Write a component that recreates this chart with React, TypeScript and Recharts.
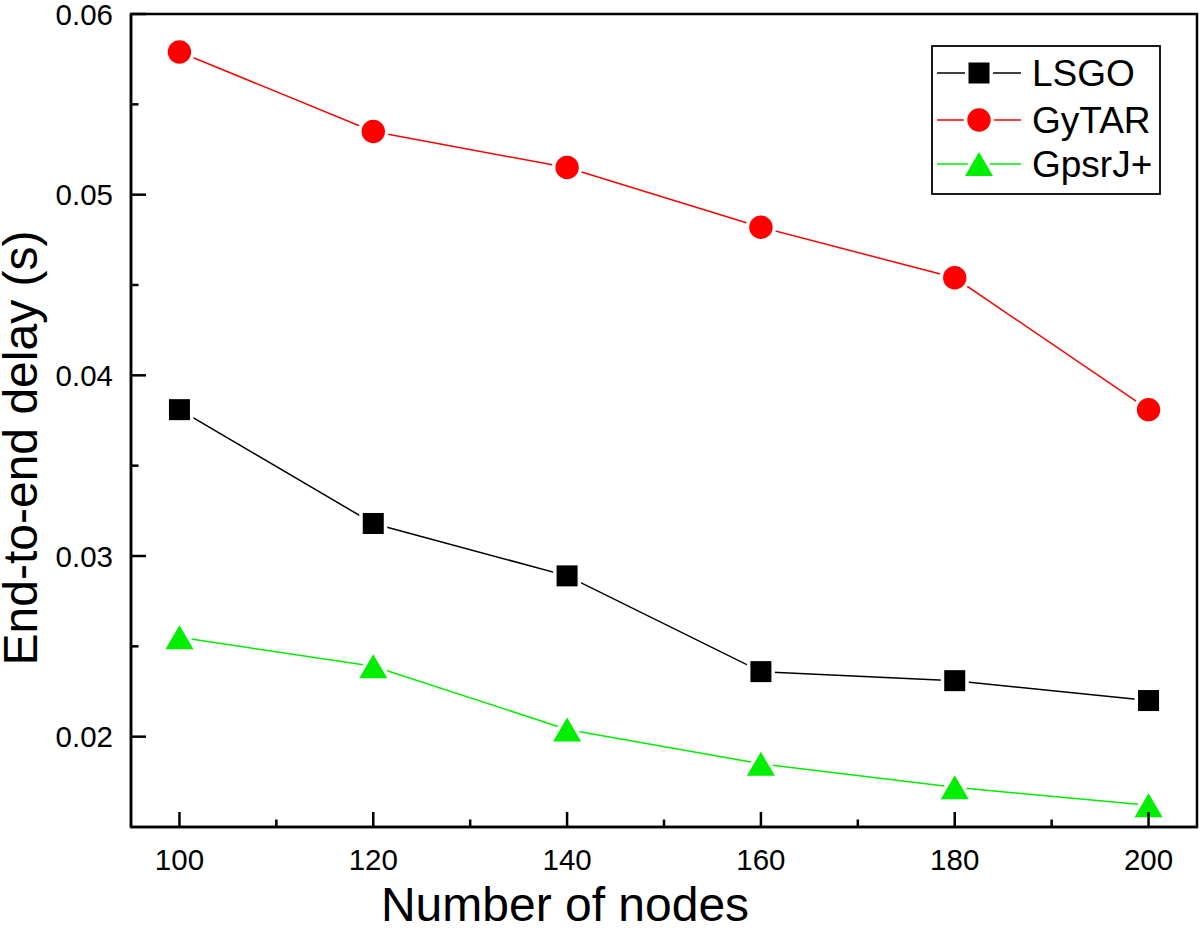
import React from 'react';
import { LineChart, Line, XAxis, YAxis, ReferenceArea, Legend } from 'recharts';

const nodes = [100, 120, 140, 160, 180, 200];
const lsgo = [0.0381, 0.0318, 0.0289, 0.0236, 0.0231, 0.022];
const gytar = [0.0579, 0.0535, 0.0515, 0.0482, 0.0454, 0.0381];
const gpsr = [0.0255, 0.0239, 0.0204, 0.0185, 0.0172, 0.0162];
const xTicks = [100, 110, 120, 130, 140, 150, 160, 170, 180, 190, 200];
const yTicks = [0.02, 0.025, 0.03, 0.035, 0.04, 0.045, 0.05, 0.055, 0.06];
const seriesNames = ['LSGO', 'GyTAR', 'GpsrJ+'];
const seriesColors = ['#000000', '#ff0000', '#00ee00'];

const data = nodes.map((n, i) => ({ nodes: n, LSGO: lsgo[i], GyTAR: gytar[i], 'GpsrJ+': gpsr[i] }));

const FONT = '"Liberation Sans", Arial, sans-serif';

const XTick = (props: any) => {
  const { x, y, payload } = props;
  const v = payload.value;
  const major = v % 20 === 0;
  return (
    <g>
      <line x1={x} x2={x} y1={y} y2={y - (major ? 15 : 7.5)} stroke="#000" strokeWidth={2.5} />
      {major && (
        <text x={x} y={y + 43} textAnchor="middle" fontFamily={FONT} fontSize={29.5} fill="#000">
          {v}
        </text>
      )}
    </g>
  );
};

const YTick = (props: any) => {
  const { x, y, payload } = props;
  const v = payload.value;
  const major = Math.round(v * 1000) % 10 === 0;
  return (
    <g>
      <line x1={x} x2={x + (major ? 15 : 7.5)} y1={y} y2={y} stroke="#000" strokeWidth={2.5} />
      {major && (
        <text x={x - 18} y={y + 10.5} textAnchor="end" fontFamily={FONT} fontSize={29.5} fill="#000">
          {v.toFixed(2)}
        </text>
      )}
    </g>
  );
};

const Marker = ({ kind, cx, cy, color }: any) => {
  const halo = { stroke: '#fff', strokeWidth: 7 };
  if (kind === 'LSGO') {
    const s = 21;
    return <rect x={cx - s / 2} y={cy - s / 2} width={s} height={s} fill={color} {...halo} style={{ paintOrder: 'stroke' }} />;
  }
  if (kind === 'GyTAR') {
    return <circle cx={cx} cy={cy} r={11.7} fill={color} {...halo} style={{ paintOrder: 'stroke' }} />;
  }
  const w = 28, h = 24;
  return (
    <polygon
      points={`${cx},${cy - h / 2} ${cx + w / 2},${cy + h / 2} ${cx - w / 2},${cy + h / 2}`}
      fill={color}
      {...halo}
      style={{ paintOrder: 'stroke' }}
    />
  );
};

const makeDot = (kind: string, color: string) => (props: any) => {
  const { cx, cy, index } = props;
  if (cx == null || cy == null) return <g key={index} />;
  return <Marker key={`${kind}-${index}`} kind={kind} cx={cx} cy={cy} color={color} />;
};

const LegendBox = (props: any) => {
  const payload = props.payload || [];
  const rows = [28, 75, 119];
  const ordered = seriesNames.filter((n) => payload.some((p: any) => p.value === n));
  return (
    <svg width={230} height={150} style={{ display: 'block' }}>
      <rect x={1} y={1} width={228} height={148} fill="#fff" stroke="#000" strokeWidth={1.8} />
      {ordered.map((name: string, i: number) => {
        const yc = rows[i];
        const color = seriesColors[seriesNames.indexOf(name)];
        return (
          <g key={name}>
            <line x1={6} x2={90} y1={yc} y2={yc} stroke={color} strokeWidth={1.5} />
            <Marker kind={name} cx={48} cy={yc} color={color} />
            <text x={101} y={yc + 13} fontFamily={FONT} fontSize={37} fill="#000">
              {name}
            </text>
          </g>
        );
      })}
    </svg>
  );
};

const XTitle = () => (
  <text x={565} y={921} textAnchor="middle" fontFamily={FONT} fontSize={48} fill="#000">
    Number of nodes
  </text>
);

const YTitle = () => (
  <text transform="translate(37, 448) rotate(-90)" textAnchor="middle" fontFamily={FONT} fontSize={48} fill="#000">
    End-to-end delay (s)
  </text>
);

export default function App() {
  return (
    <div style={{ position: 'absolute', left: 0, top: 0, width: 1200, height: 931, background: '#fff' }}>
      <LineChart width={1200} height={931} data={data} margin={{ top: 14, right: 3, bottom: 0, left: 0 }}>
        <XAxis
          dataKey="nodes"
          type="number"
          domain={[95, 205]}
          ticks={xTicks}
          interval={0}
          tickSize={0}
          tickMargin={0}
          tickLine={false}
          tick={<XTick />}
          axisLine={{ stroke: '#000', strokeWidth: 2.5 }}
          height={104}
          label={<XTitle />}
        />
        <YAxis
          type="number"
          domain={[0.015, 0.06]}
          allowDataOverflow
          ticks={yTicks}
          interval={0}
          tickSize={0}
          tickMargin={0}
          tickLine={false}
          tick={<YTick />}
          axisLine={{ stroke: '#000', strokeWidth: 2.5 }}
          width={131}
          label={<YTitle />}
        />
        <ReferenceArea x1={95} x2={205} y1={0.015} y2={0.06} fill="none" stroke="#000" strokeWidth={2.5} ifOverflow="visible" />
        {seriesNames.map((name, i) => (
          <Line
            key={name}
            dataKey={name}
            name={name}
            stroke={seriesColors[i]}
            strokeWidth={1.5}
            dot={makeDot(name, seriesColors[i])}
            activeDot={false}
            isAnimationActive={false}
          />
        ))}
        <Legend
          layout="horizontal"
          verticalAlign="middle"
          align="center"
          wrapperStyle={{ left: 931, top: 45, width: 230, height: 150 }}
          content={<LegendBox />}
        />
      </LineChart>
    </div>
  );
}
